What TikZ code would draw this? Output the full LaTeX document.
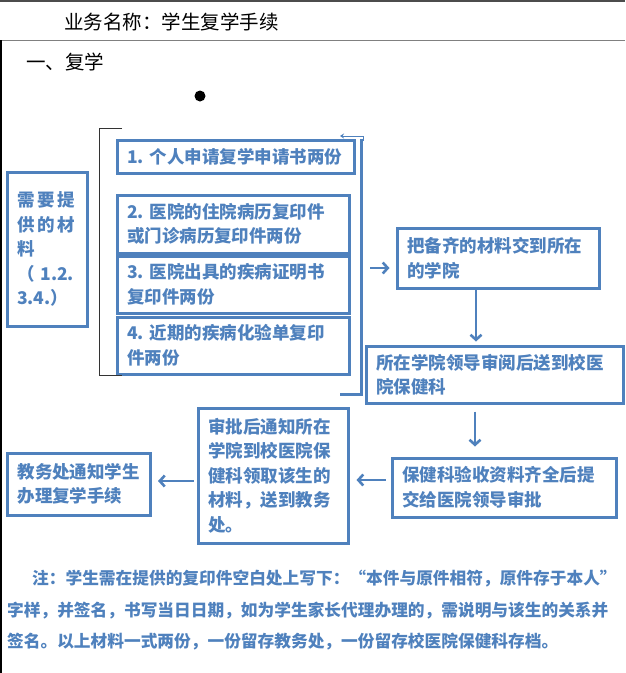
\documentclass[tikz,border=0pt]{standalone}
\usepackage{fontspec}
\newfontfamily\cjk{Noto Sans CJK SC}
\usetikzlibrary{positioning,arrows.meta}
\definecolor{boxblue}{RGB}{79,129,189}
\newcommand{\gap}{\hspace{3pt}}

\begin{document}
\begin{tikzpicture}[
		x=1pt, y=-1pt
		,box/.style={draw=boxblue, line width=3pt, text=boxblue, align=left, inner xsep=10pt, inner ysep=0pt, font=\cjk\bfseries\fontsize{17.5}{24.5}\selectfont}
		,link/.style={draw=boxblue, line width=2.6pt, -{Straight Barb[length=5pt,width=11pt]}}
		,note/.style={anchor=base west, inner sep=0pt, text=boxblue, font=\cjk\bfseries\fontsize{16.7}{20}\selectfont}
		,head/.style={anchor=base west, inner sep=0pt, font=\cjk\fontsize{19.5}{22}\selectfont}
	]
		\useasboundingbox (0,0) rectangle (625,673);

		\draw[gray!60!black, line width=1.5pt] (0,0.75) -- (625,0.75);
		\draw[gray, line width=1pt] (0,40) -- (625,40);
		\draw[black, line width=1.5pt] (0.75,40) -- (0.75,673);

		\node[head] (title) at (64,29) {业务名称：学生复学手续};
		\node[head] (part) at (26,69) {一、复学};
		\fill (200,96) circle (5.5);

		\node[box, text width=60pt, minimum height=154pt] (need) at (47,249) {需\gap 要\gap 提\\供\gap 的\gap 材\\料\\（\hspace{6pt}1.2.\\3.4.）\\[-18pt]};
		\node[box, text width=217pt, minimum height=33pt] (m1) at (235.5,156.5) {1.~个人申请复学申请书两份};
		\node[box, text width=212pt, minimum height=58pt] (m2) at (233,224) {2.~医院的住院病历复印件\\或门诊病历复印件两份};
		\node[box, text width=212pt, minimum height=57pt] (m3) at (233,284.5) {3.~医院出具的疾病证明书\\复印件两份};
		\node[box, text width=212pt, minimum height=57pt] (m4) at (233,345.5) {4.~近期的疾病化验单复印\\件两份};

		\draw[black!80, line width=1pt] (122,128) -| (99.5,375) -- (122,375);
		\draw[boxblue, line width=3pt] (340,394) -| (361,139);
		\draw[boxblue, line width=0.8pt, -{Stealth[length=4pt,width=5pt]}] (363,141) |- (340,136);

		\node[box, text width=182pt, minimum height=60pt] (hand) at (498,258) {把备齐的材料交到所在\\的学院};
		\node[box, text width=237pt, minimum height=57pt] (college) at (494.5,374.5) {所在学院领导审阅后送到校医\\院保健科};
		\node[box, text width=204pt, minimum height=59pt] (clinic) at (504,487.5) {保健科验收资料齐全后提\\交给医院领导审批};
		\node[box, text width=130pt, minimum height=135pt] (notify) at (273,475.5) {审批后通知所在\\学院到校医院保\\健科领取该生的\\材料，送到教务\\处。};
		\node[box, text width=123pt, minimum height=62pt] (office) at (79,484) {教务处通知学生\\办理复学手续};

		\coordinate (gather) at (370,268);
		\draw[link, shorten >=6pt] (gather) -- (gather -| hand.west);
		\draw[link, shorten >=3pt] ([xshift=-22pt]hand.south) -- ([xshift=-22pt]hand.south |- college.north);
		\draw[link, shorten <=7pt, shorten >=10pt] ([xshift=-19.5pt]college.south) -- ([xshift=-19.5pt]college.south |- clinic.north);
		\draw[link, shorten <=5pt, shorten >=7pt] ([yshift=7.5pt]clinic.west) -- ([yshift=7.5pt]clinic.west -| notify.east);
		\draw[link, shorten <=3pt, shorten >=6pt] ([yshift=3pt]office.east -| notify.west) -- ([yshift=3pt]office.east);

		\node[note] (note1) at (32,584) {注：学生需在提供的复印件空白处上写下：“本件与原件相符，原件存于本人”};
		\node[note] (note2) at (7,616) {字样，并签名，书写当日日期，如为学生家长代理办理的，需说明与该生的关系并};
		\node[note] (note3) at (7,647) {签名。以上材料一式两份，一份留存教务处，一份留存校医院保健科存档。};
	\end{tikzpicture}
\end{document}
